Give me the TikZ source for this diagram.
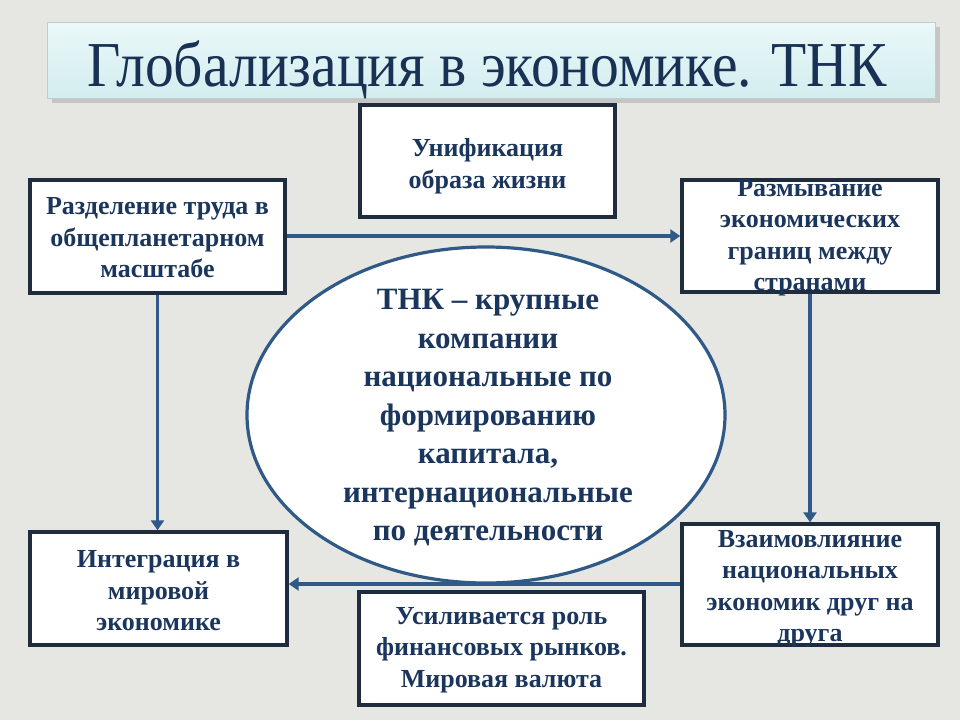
\documentclass[tikz,border=0pt]{standalone}
\usepackage{fontspec}
\setmainfont{Liberation Serif}
\usetikzlibrary{arrows.meta,shapes.geometric}
\definecolor{bg}{HTML}{E6E6E2}
\definecolor{navy}{HTML}{1B365D}
\definecolor{boxline}{HTML}{1E2C3E}
\definecolor{conn}{HTML}{2F5A88}
\definecolor{titletop}{HTML}{EAF8F9}
\definecolor{titlebot}{HTML}{D3EDEF}
\definecolor{titleedge}{HTML}{C2CCCC}
\tikzset{
  box/.style={draw=boxline, line width=3.4pt, fill=white, inner sep=0pt},
  txt/.style={text=navy, font=\fontsize{26}{31.5}\selectfont\bfseries, align=center, inner sep=0pt},
  conn/.style={draw=conn, line width=3.4pt, -{Triangle[length=10pt,width=13pt]}},
  oval/.style={ellipse, draw=conn, line width=3.2pt, fill=white, inner sep=0pt}
}
\begin{document}
\begin{tikzpicture}[x=1pt,y=-1pt]
\fill[bg] (0,0) rectangle (960,720);
\useasboundingbox (0,0) rectangle (960,720);
% title
\fill[black!35,opacity=0.5] (52,27) rectangle (940,103);
\node[draw=titleedge, line width=1pt, top color=titletop, bottom color=titlebot,
  minimum width=888pt, minimum height=76pt, inner sep=0pt] (title) at (491,60) {};
\node[text=navy!90!black, font=\fontsize{64}{64}\selectfont, inner sep=0pt, anchor=base] (titletext) at (487,86)
  {\scalebox{0.9}[1]{Глобализация в экономике. ТНК}};
% boxes
\node[box, minimum width=255pt, minimum height=112pt] (unif) at (487.5,161) {};
\node[box, minimum width=255pt, minimum height=113pt] (razd) at (157.5,236.5) {};
\node[box, minimum width=256pt, minimum height=112pt] (razm) at (810,236) {};
\node[box, minimum width=257pt, minimum height=113pt] (integ) at (158.5,588.5) {};
\node[box, minimum width=285pt, minimum height=113pt] (usil) at (501.5,648.5) {};
\node[box, minimum width=256pt, minimum height=121pt] (vzaim) at (810,584.5) {};
% ellipse
\node[oval, minimum width=478pt, minimum height=336pt] (tnk) at (486,415) {};
% connectors
\draw[conn] (razd.east |- 0,236) -- (razm.west |- 0,236);
\draw[conn] (razd.south) -- (integ.north -| razd.south);
\draw[conn] (razm.south) -- (vzaim.north -| razm.south);
\draw[conn] (vzaim.west |- 0,584) -- (integ.east |- 0,584);
% texts
\node[txt] (unift) at (487.5,166) {Унификация\\образа жизни};
\node[txt] (razdt) at (157.5,238) {Разделение труда в\\общепланетарном\\масштабе};
\node[txt] (razmt) at (810,238) {Размывание\\экономических\\границ между\\странами};
\node[txt] (integt) at (158.5,591) {Интеграция в\\мировой\\экономике};
\node[txt] (usilt) at (501.5,650) {Усиливается роль\\финансовых рынков.\\Мировая валюта};
\node[txt] (vzaimt) at (810,589) {Взаимовлияние\\национальных\\экономик друг на\\друга};
\node[txt, font=\fontsize{31}{38.5}\selectfont\bfseries] (tnkt) at (488,418)
  {ТНК – крупные\\компании\\национальные по\\формированию\\капитала,\\интернациональные\\по деятельности};
\end{tikzpicture}
\end{document}
